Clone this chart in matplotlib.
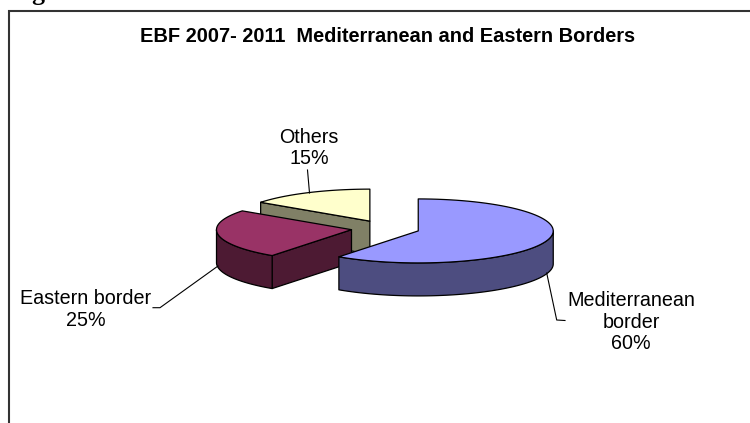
import numpy as np
import matplotlib
matplotlib.use("Agg")
import matplotlib.pyplot as plt
from matplotlib.patches import Polygon

plt.rcParams['font.family'] = ['Liberation Sans', 'DejaVu Sans']

# Slices, clockwise from twelve o'clock
borders = ['Mediterranean\nborder', 'Eastern border', 'Others']
shares = [60, 25, 15]
top_colors = ['#9999FF', '#993366', '#FFFFCC']
side_colors = ['#4D4D80', '#4D1A33', '#808066']

title = 'EBF 2007- 2011  Mediterranean and Eastern Borders'

# Pie geometry in pixels
cx, cy = 385.5, 228.4
rx, ry = 135, 32
depth = 33
explode = 0.255


def rim(center, t0, t1):
    t = np.radians(np.linspace(t0, t1, 80))
    return np.column_stack([center[0] + rx * np.sin(t), center[1] - ry * np.cos(t)])


def draw_face(ax, pts, color):
    ax.add_patch(Polygon(pts, closed=True, facecolor=color, edgecolor='black',
                         linewidth=0.9, joinstyle='round'))


def draw_slice(ax, start, sweep, top, side):
    end = start + sweep
    mid = np.radians(start + sweep / 2)
    center = np.array([cx + explode * rx * np.sin(mid), cy - explode * ry * np.cos(mid)])
    down = np.array([0, depth])

    # cut face on the leading edge shows only when it points at the viewer
    if 180 < start < 360:
        edge = rim(center, start, start)[0]
        draw_face(ax, [center, edge, edge + down, center + down], side)

    # outer wall, only the front half of the ellipse is visible
    t0, t1 = max(start, 90), min(end, 270)
    if t1 > t0:
        arc = rim(center, t0, t1)
        draw_face(ax, np.vstack([arc, (arc + down)[::-1]]), side)

    draw_face(ax, np.vstack([center, rim(center, start, end)]), top)


fig = plt.figure(figsize=(7.5, 4.23), dpi=100)
ax = fig.add_axes([0, 0, 1, 1])
ax.set_xlim(0, 750)
ax.set_ylim(423, 0)
ax.axis('off')

# heading of the page, cut off by the top edge
ax.text(9, 0, 'Figure 6', family='Liberation Serif', fontweight='bold', fontsize=18.7,
        va='baseline', ha='left', clip_on=False)

# chart frame runs off the right and bottom
ax.plot([9, 9, 750], [423, 11, 11], color='#333333', linewidth=1.5, solid_joinstyle='miter')

ax.text(388, 37, title, fontsize=14.4, fontweight='bold', ha='center', va='center')

# back to front so nearer slices cover the others
angles = np.cumsum([0] + shares[:-1]) * 3.6
order = [2, 1, 0]
for i in order:
    draw_slice(ax, angles[i], shares[i] * 3.6, top_colors[i], side_colors[i])

# leader lines
ax.plot([307.5, 309.5], [170, 193], color='black', linewidth=0.8)
ax.plot([218, 160, 153], [266, 307.7, 307.7], color='black', linewidth=0.8)
ax.plot([546.7, 556.7, 565], [273, 320, 320.5], color='black', linewidth=0.8)

# data labels
label_pos = [(631, 322), (85.5, 309.5), (309, 148)]
for name, share, (x, y) in zip(borders, shares, label_pos):
    ax.text(x, y, f'{name}\n{share}%', fontsize=14.2, ha='center', va='center',
            linespacing=1.18)

fig.savefig('out.png', dpi=100, facecolor='white')
